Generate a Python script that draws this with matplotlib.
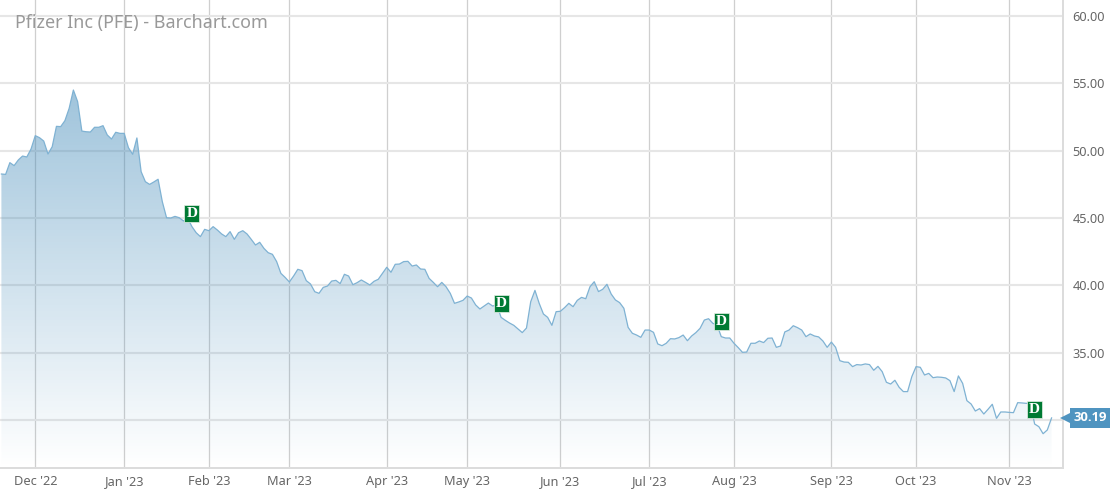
#!/usr/bin/python
# -*- coding: utf-8 -*-
#
# Pfizer daily close, one year, barchart style area chart
#

import numpy as np
import matplotlib
matplotlib.use('Agg')

import matplotlib.pyplot as plt
import matplotlib.transforms as mtrans
from matplotlib.patches import PathPatch
from matplotlib.path import Path

title_text = "Pfizer Inc (PFE) - Barchart.com"

# one value per trading day
close = [
	48.26, 48.23, 49.10, 48.88, 49.30, 49.59, 49.52, 50.11, 51.10, 50.95,
	50.70, 49.74, 50.28, 51.79, 51.77, 52.21, 53.12, 54.48, 53.62, 51.44,
	51.39, 51.37, 51.72, 51.72, 51.84, 51.15, 50.85, 51.35, 51.27, 51.27,
	50.21, 49.72, 50.93, 48.43, 47.69, 47.49, 47.67, 47.87, 46.21, 45.02,
	45.00, 45.12, 45.02, 44.78, 44.98, 44.36, 43.91, 43.62, 44.16, 44.06,
	44.36, 44.11, 43.82, 43.62, 43.99, 43.42, 43.91, 44.06, 43.82, 43.42,
	43.00, 43.20, 42.75, 42.43, 42.31, 41.77, 40.90, 40.60, 40.26, 40.70,
	41.20, 41.10, 40.36, 40.11, 39.54, 39.42, 39.86, 39.96, 40.33, 40.38,
	40.14, 40.83, 40.70, 40.06, 40.21, 40.41, 40.23, 40.04, 40.31, 40.46,
	40.90, 41.35, 40.98, 41.57, 41.59, 41.77, 41.79, 41.44, 41.52, 41.22,
	41.20, 40.53, 40.23, 39.91, 40.23, 39.91, 39.42, 38.68, 38.78, 38.90,
	39.22, 39.07, 38.56, 38.26, 38.48, 38.70, 38.48, 38.56, 37.64, 37.42,
	37.22, 37.05, 36.78, 36.51, 36.85, 38.80, 39.64, 38.68, 37.89, 37.64,
	37.05, 38.06, 38.09, 38.36, 38.68, 38.43, 38.90, 39.12, 39.02, 39.91,
	40.28, 39.55, 39.72, 40.09, 39.37, 38.93, 38.73, 38.31, 36.90, 36.46,
	36.33, 36.16, 36.70, 36.70, 36.53, 35.67, 35.54, 35.72, 36.06, 36.04,
	36.14, 36.33, 35.91, 36.26, 36.51, 36.83, 37.44, 37.54, 37.20, 37.07,
	36.21, 36.11, 36.11, 35.72, 35.40, 35.05, 35.07, 35.72, 35.72, 35.89,
	35.77, 36.09, 36.11, 35.42, 35.52, 36.56, 36.70, 37.02, 36.88, 36.70,
	36.21, 36.41, 36.26, 36.19, 35.89, 35.42, 35.81, 35.42, 34.43, 34.33,
	34.31, 33.99, 34.14, 34.11, 34.19, 34.14, 33.72, 34.01, 33.62, 32.83,
	32.70, 32.98, 32.46, 32.14, 32.14, 33.25, 33.99, 33.94, 33.37, 33.49,
	33.17, 33.22, 33.20, 33.15, 32.95, 32.14, 33.30, 32.75, 31.47, 31.22,
	30.70, 30.88, 30.48, 30.83, 31.20, 30.16, 30.63, 30.63, 30.60, 30.58,
	31.32, 31.30, 31.27, 31.27, 29.74, 29.54, 29.02, 29.30, 30.19,
]

month_pos = [8, 29, 49, 68, 91, 110, 132, 153, 173, 196, 216, 238]
month_labels = ["Dec '22", "Jan '23", "Feb '23", "Mar '23", "Apr '23", "May '23",
	"Jun '23", "Jul '23", "Aug '23", "Sep '23", "Oct '23", "Nov '23"]
price_ticks = [30, 35, 40, 45, 50, 55, 60]

# dividend flags
div_pos = [45, 118, 170, 244]
div_price = [45.44, 38.78, 37.44, 30.93]

GRID_H = '#e6e6e6'
GRID_V = '#cfcfcf'
LINE = '#7fb2d3'
FILL = (0.24, 0.53, 0.72)
TEXT = '#666666'
GREEN = '#007a33'
TAG = '#4f94c0'

plt.rcParams['font.family'] = ['Noto Sans', 'DejaVu Sans']

fig = plt.figure(figsize=(11.1, 4.95), dpi=100)
# axes box in figure fractions, leaves the price labels on the right
ax = fig.add_axes([0, 1 - 468.0 / 495, 1063.0 / 1110, 468.0 / 495])

x = np.arange(len(close))
y = np.array(close)
ymin, ymax = 26.48, 61.15
xmin, xmax = -0.33, 250.7

ax.set_xticks(month_pos)
ax.set_xticklabels(month_labels)
ax.set_yticks(price_ticks)
# the 30.00 label sits under the last price tag
ax.set_yticklabels(['' if p == 30 else '%.2f' % p for p in price_ticks])
ax.yaxis.tick_right()
ax.tick_params(axis='both', length=0, labelsize=9.2, labelcolor=TEXT)
ax.tick_params(axis='y', pad=7)
ax.tick_params(axis='x', pad=10)
for lab in ax.get_xticklabels():
	lab.set_verticalalignment('center')

ax.grid(True, axis='y', color=GRID_H, linewidth=1.5, zorder=1)
ax.grid(True, axis='x', color=GRID_V, linewidth=0.9, zorder=1)
ax.set_axisbelow(True)

for s in ['top', 'left']:
	ax.spines[s].set_visible(False)
for s in ['right', 'bottom']:
	ax.spines[s].set_color('#dcdcdc')
	ax.spines[s].set_linewidth(1.4)

# gradient area: translucent blue fading down, clipped to the price curve
grad = np.zeros((256, 2, 4))
grad[:, :, 0] = FILL[0]
grad[:, :, 1] = FILL[1]
grad[:, :, 2] = FILL[2]
grad[:, :, 3] = np.linspace(0.0, 0.5, 256)[:, None]
im = ax.imshow(grad, extent=[xmin, xmax, ymin, 55.0], origin='lower', aspect='auto', zorder=2)
verts = np.concatenate([[[x[0], ymin]], np.column_stack([x, y]), [[x[-1], ymin]], [[x[0], ymin]]])
clip = PathPatch(Path(verts), transform=ax.transData, facecolor='none', edgecolor='none')
ax.add_patch(clip)
im.set_clip_path(clip)
ax.set_xlim(xmin, xmax)
ax.set_ylim(ymin, ymax)

ax.plot(x, y, color=LINE, linewidth=0.9, zorder=3)

# D flags
for p, v in zip(div_pos, div_price):
	ax.text(p, v, 'D', family=['Liberation Serif', 'DejaVu Serif'], fontweight='bold', fontsize=11,
		color='white', ha='center', va='center_baseline', zorder=5,
		bbox=dict(boxstyle='square,pad=0.13', facecolor=GREEN, edgecolor='#e8f0e8', linewidth=0.5))

# last price tag on the right side of the box
trans = mtrans.blended_transform_factory(ax.transAxes, ax.transData)
ax.plot([1.0035], [close[-1]], marker='<', markersize=10.5, color=TAG, markeredgewidth=0,
	transform=trans, clip_on=False, zorder=6)
ax.text(1.0255, close[-1], '%.2f' % close[-1], transform=trans, color='white', fontweight='bold',
	family=['Open Sans', 'DejaVu Sans'], fontsize=9.4, ha='center', va='center', zorder=7, clip_on=False,
	bbox=dict(boxstyle='square,pad=0.28', facecolor=TAG, edgecolor='none'))

fig.text(15.0 / 1110, 1 - 23.0 / 495, title_text, color='#999999', fontsize=12.9, va='center', ha='left')

plt.savefig('out.png', dpi=100)
